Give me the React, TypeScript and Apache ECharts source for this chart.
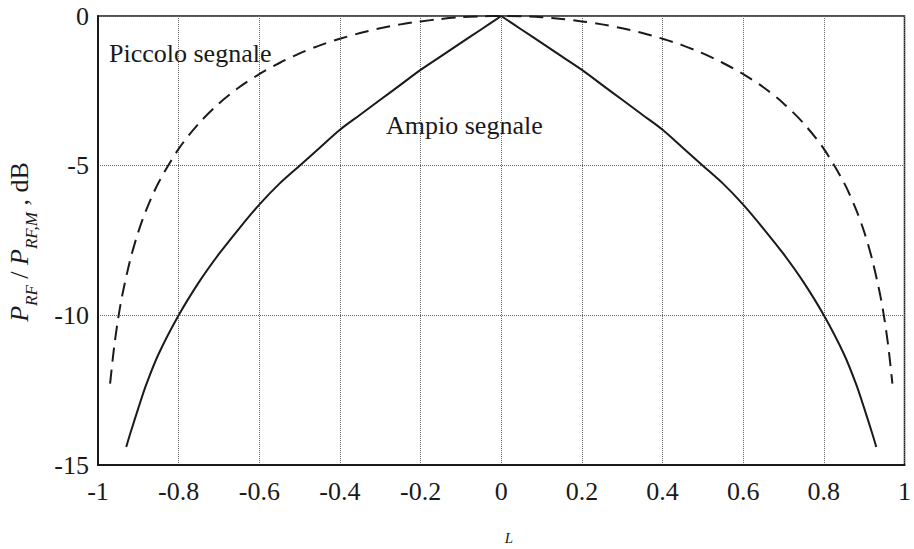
import React, { useEffect, useRef } from "react";
import * as echarts from "echarts";

// Normalised load parameter L and relative RF power in dB
const largeSignalLeftL = [
  -0.93, -0.92, -0.9, -0.88, -0.85, -0.8, -0.75, -0.7, -0.65, -0.6, -0.55, -0.5,
  -0.45, -0.4, -0.35, -0.3, -0.25, -0.2, -0.15, -0.1, -0.05, 0,
];
const largeSignalLeftDb = [
  -14.4, -13.95, -13.1, -12.3, -11.3, -10.0, -8.9, -7.95, -7.1, -6.3, -5.6, -5.0,
  -4.4, -3.8, -3.3, -2.8, -2.3, -1.8, -1.35, -0.9, -0.45, 0,
];
const largeSignalRightL = [
  0, 0.05, 0.1, 0.15, 0.2, 0.25, 0.3, 0.35, 0.4, 0.45, 0.5, 0.55, 0.6, 0.65, 0.7,
  0.75, 0.8, 0.85, 0.88, 0.9, 0.92, 0.93,
];
const largeSignalRightDb = [
  0, -0.45, -0.9, -1.35, -1.8, -2.3, -2.8, -3.3, -3.8, -4.4, -5.0, -5.6, -6.3, -7.1, -7.95,
  -8.9, -10.0, -11.3, -12.3, -13.1, -13.95, -14.4,
];

const smallSignalL = [
  -0.97, -0.96, -0.95, -0.94, -0.92, -0.9, -0.88, -0.85, -0.8, -0.75, -0.7, -0.65,
  -0.6, -0.55, -0.5, -0.45, -0.4, -0.35, -0.3, -0.25, -0.2, -0.15, -0.1, -0.05, 0,
  0.05, 0.1, 0.15, 0.2, 0.25, 0.3, 0.35, 0.4, 0.45, 0.5, 0.55, 0.6,
  0.65, 0.7, 0.75, 0.8, 0.85, 0.88, 0.9, 0.92, 0.94, 0.95, 0.96, 0.97,
];
const smallSignalDb = [
  -12.28, -11.06, -10.11, -9.34, -8.14, -7.21, -6.47, -5.57, -4.44, -3.59, -2.92, -2.38,
  -1.94, -1.57, -1.25, -0.98, -0.76, -0.57, -0.41, -0.28, -0.18, -0.1, -0.04, -0.01, 0,
  -0.01, -0.04, -0.1, -0.18, -0.28, -0.41, -0.57, -0.76, -0.98, -1.25, -1.57, -1.94,
  -2.38, -2.92, -3.59, -4.44, -5.57, -6.47, -7.21, -8.14, -9.34, -10.11, -11.06, -12.28,
];

const xTickValues = [-1, -0.8, -0.6, -0.4, -0.2, 0, 0.2, 0.4, 0.6, 0.8, 1];
const xTickLabels = ["-1", "-0.8", "-0.6", "-0.4", "-0.2", "0", "0.2", "0.4", "0.6", "0.8", "1"];
const yTickValues = [-15, -10, -5, 0];
const yTickLabels = ["-15", "-10", "-5", "0"];

const serif = "Times New Roman, Liberation Serif, DejaVu Serif, serif";
const ink = "#1a1a1a";

function labelFor(values: number[], labels: string[], v: number): string {
  const i = values.findIndex((t) => Math.abs(t - v) < 1e-6);
  return i >= 0 ? labels[i] : "";
}

export default function App() {
  const ref = useRef<HTMLDivElement>(null);

  useEffect(() => {
    document.body.style.margin = "0";
    if (!ref.current) return;
    const chart = echarts.init(ref.current, undefined, { renderer: "svg" });

    const pairs = (xs: number[], ys: number[]) => xs.map((x, i) => [x, ys[i]]);
    const solidStyle = { color: ink, width: 2 };
    const gridLine = { show: true, lineStyle: { color: "#666", width: 1, type: "dotted" as const } };

    chart.setOption({
      animation: false,
      backgroundColor: "#fff",
      textStyle: { fontFamily: serif },
      grid: {
        left: 98,
        top: 16,
        right: 7,
        bottom: 84,
        show: true,
        borderColor: ink,
        borderWidth: 1.5,
        backgroundColor: "transparent",
      },
      xAxis: {
        type: "value",
        min: -1,
        max: 1,
        interval: 0.2,
        axisLine: { show: true, onZero: false, lineStyle: { color: ink, width: 2 } },
        axisTick: { show: false },
        splitLine: gridLine,
        axisLabel: {
          margin: 13,
          color: ink,
          fontFamily: serif,
          fontSize: 26,
          formatter: (v: number) => labelFor(xTickValues, xTickLabels, v),
        },
      },
      yAxis: {
        type: "value",
        min: -15,
        max: 0,
        interval: 5,
        axisLine: { show: true, onZero: false, lineStyle: { color: ink, width: 2 } },
        axisTick: { show: false },
        splitLine: gridLine,
        axisLabel: {
          margin: 9,
          color: ink,
          fontFamily: serif,
          fontSize: 26,
          formatter: (v: number) => labelFor(yTickValues, yTickLabels, v),
        },
      },
      series: [
        {
          name: "Ampio segnale",
          type: "line",
          data: pairs(largeSignalLeftL, largeSignalLeftDb),
          showSymbol: false,
          smooth: 0.3,
          lineStyle: solidStyle,
        },
        {
          name: "Ampio segnale",
          type: "line",
          data: pairs(largeSignalRightL, largeSignalRightDb),
          showSymbol: false,
          smooth: 0.3,
          lineStyle: solidStyle,
        },
        {
          name: "Piccolo segnale",
          type: "line",
          data: pairs(smallSignalL, smallSignalDb),
          showSymbol: false,
          smooth: 0.3,
          lineStyle: { color: ink, width: 2, type: [14, 8] },
        },
      ],
      graphic: [
        {
          type: "text",
          x: 109,
          y: 53,
          style: {
            text: "Piccolo segnale",
            fontFamily: serif,
            fontSize: 26,
            fill: ink,
            align: "left",
            verticalAlign: "middle",
          },
        },
        {
          type: "text",
          x: 386,
          y: 125,
          style: {
            text: "Ampio segnale",
            fontFamily: serif,
            fontSize: 26,
            fill: ink,
            align: "left",
            verticalAlign: "middle",
          },
        },
        {
          type: "text",
          x: 509,
          y: 538,
          style: {
            text: "L",
            fontFamily: serif,
            fontStyle: "italic",
            fontSize: 15,
            fill: ink,
            align: "center",
            verticalAlign: "middle",
          },
        },
        {
          type: "text",
          x: 23,
          y: 242,
          rotation: Math.PI / 2,
          style: {
            text: "{p|P}{s|RF}{n| / }{p|P}{s|RF,M}{n| , dB}",
            align: "center",
            verticalAlign: "middle",
            fill: ink,
            rich: {
              p: { fontFamily: serif, fontStyle: "italic", fontSize: 26, lineHeight: 34, verticalAlign: "top", fill: ink },
              n: { fontFamily: serif, fontSize: 26, lineHeight: 34, verticalAlign: "top", fill: ink },
              s: { fontFamily: serif, fontStyle: "italic", fontSize: 17, lineHeight: 17, verticalAlign: "bottom", fill: ink },
            },
          },
        },
      ],
    });

    return () => chart.dispose();
  }, []);

  return <div ref={ref} style={{ width: 914, height: 549 }} />;
}
